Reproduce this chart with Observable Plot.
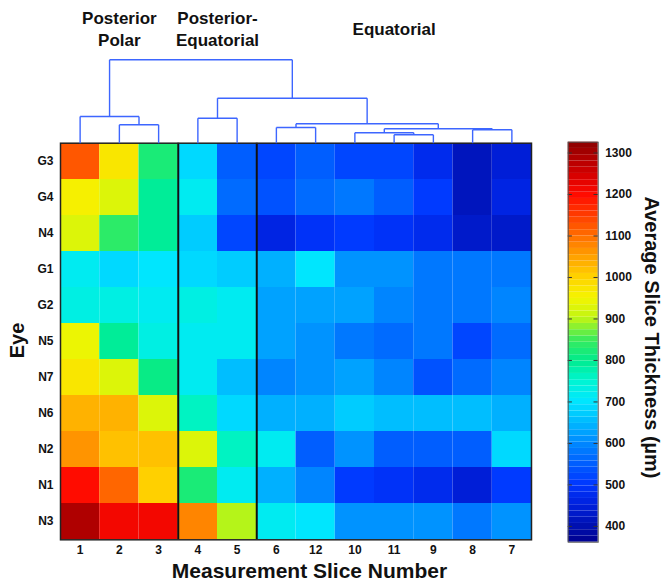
<!DOCTYPE html>
<html><head><meta charset="utf-8">
<script src="https://cdn.jsdelivr.net/npm/d3@7"></script>
<script src="https://cdn.jsdelivr.net/npm/@observablehq/plot@0.6"></script>
<style>
html,body{margin:0;padding:0;background:#fff;}
#chart{position:relative;width:665px;height:585px;overflow:hidden;font-family:"Liberation Sans",Arial,sans-serif;}
#chart svg{position:absolute;left:0;top:0;}
</style></head><body><div id="chart"></div>
<script>
// Column order (measurement slice numbers) and row order (eyes)
const slices = ["1","2","3","4","5","6","12","10","11","9","8","7"];
const eyes = ["G3","G4","N4","G1","G2","N5","N7","N6","N2","N1","N3"];

// Average slice thickness (µm), one array per eye, in column order above
const rowG3 = [1130, 975, 820, 685, 545, 515, 550, 525, 518, 478, 418, 450];
const rowG4 = [955, 930, 790, 710, 565, 535, 560, 580, 555, 500, 410, 458];
const rowN4 = [920, 835, 790, 670, 522, 462, 495, 508, 485, 478, 435, 435];
const rowG1 = [720, 680, 695, 680, 675, 635, 705, 615, 615, 585, 585, 585];
const rowG2 = [725, 725, 720, 730, 715, 625, 625, 630, 595, 585, 585, 600];
const rowN5 = [935, 790, 725, 715, 710, 625, 615, 575, 560, 585, 525, 565];
const rowN7 = [965, 930, 805, 715, 650, 595, 605, 630, 595, 540, 560, 595];
const rowN6 = [1030, 1030, 925, 760, 690, 640, 640, 670, 660, 660, 660, 645];
const rowN2 = [1065, 1020, 1020, 925, 765, 715, 555, 615, 555, 555, 555, 680];
const rowN1 = [1205, 1110, 1005, 815, 710, 640, 595, 500, 490, 468, 450, 505];
const rowN3 = [1285, 1210, 1210, 1080, 895, 715, 695, 605, 605, 605, 580, 605];

// Column clusters
const groupNames = ["Posterior\nPolar", "Posterior-\nEquatorial", "Equatorial"];
const groupFirst = [0, 3, 5];
const groupLast = [2, 4, 11];

// Dendrogram linkage (leaves are column indices 0..11, merges numbered from 12)
const linkLeft   = [1, 0, 3, 5, 8, 7, 10, 17, 15, 14, 13];
const linkRight  = [2, 12, 4, 6, 9, 16, 11, 18, 19, 20, 21];
const linkHeight = [184, 267, 250, 157, 84, 104, 134, 144, 195, 450, 834];

// Colour bar (jet-like colour map, 64 levels)
const colorDomain = [362, 1326];
const colorTicks = [400, 500, 600, 700, 800, 900, 1000, 1100, 1200, 1300];
const colorLevels = 64;
const stopValues = [362, 400, 450, 500, 550, 600, 650, 700, 750, 800, 850, 900, 950, 1000, 1050, 1100, 1150, 1200, 1250, 1326];
const stopColors = ["#000090", "#0010b0", "#0020dc", "#0036ff", "#005eff", "#0089ff", "#00b9ff", "#00e6ff", "#00f5d2", "#00eb8c",
                    "#3ceb5a", "#bef514", "#f5f500", "#ffd200", "#ffa000", "#ff6e00", "#ff3c00", "#ff0a00", "#d20000", "#8c0000"];
const stopScale = d3.scaleLinear().domain(stopValues).range(stopColors).interpolate(d3.interpolateRgb).clamp(true);

function jetLike(t) {
  t = Math.max(0, Math.min(1, t));
  const q = Math.min(colorLevels - 1, Math.floor(t * colorLevels));
  const u = (q + 0.5) / colorLevels;
  return stopScale(colorDomain[0] + u * (colorDomain[1] - colorDomain[0]));
}
const colorOpts = {type: "linear", domain: colorDomain, interpolate: jetLike};
const font = "'Liberation Sans', Arial, sans-serif";

const rows = [rowG3, rowG4, rowN4, rowG1, rowG2, rowN5, rowN7, rowN6, rowN2, rowN1, rowN3];
const cells = [];
eyes.forEach((e, r) => rows[r].forEach((v, c) => cells.push({eye: e, i: c, value: v})));

const W = 665, H = 585;
const mL = 60, mR = 134, mT = 142.7, mB = 45.7;

const heat = Plot.plot({
  width: W, height: H, marginLeft: mL, marginRight: mR, marginTop: mT, marginBottom: mB,
  x: {domain: [-0.5, slices.length - 0.5]},
  y: {domain: eyes, padding: 0},
  color: colorOpts,
  style: {fontFamily: font, background: "transparent", color: "#111"},
  marks: [
    Plot.barX(cells, {x1: d => d.i - 0.5, x2: d => d.i + 0.5, y: "eye", fill: "value", inset: 0}),
    Plot.ruleX(groupFirst.slice(1), {x: d => d - 0.5, stroke: "#111", strokeWidth: 2}),
    Plot.frame({stroke: "#222", strokeWidth: 1.5}),
    Plot.axisX(d3.range(slices.length), {tickFormat: i => slices[i], tickSize: 0, tickPadding: 6, fontSize: 12, fontWeight: "bold", label: null}),
    Plot.axisY({tickSize: 0, tickPadding: 7, fontSize: 12, fontWeight: "bold", label: null}),
    Plot.text(["Measurement Slice Number"], {frameAnchor: "bottom", lineAnchor: "middle", textAnchor: "middle", dx: 13.5, dy: 31, fontSize: 21, fontWeight: "bold", fill: "#111"}),
    Plot.text(["Eye"], {frameAnchor: "left", lineAnchor: "middle", textAnchor: "middle", rotate: -90, dx: -43, dy: -1, fontSize: 20, fontWeight: "bold", fill: "#111"})
  ]
});

// dendrogram segments
const nodeX = d3.range(slices.length), nodeH = slices.map(() => 0);
const segs = [];
linkLeft.forEach((a, k) => {
  const b = linkRight[k], h = linkHeight[k];
  const xa = nodeX[a], xb = nodeX[b];
  segs.push({x1: xa, y1: nodeH[a], x2: xa, y2: h});
  segs.push({x1: xa, y1: h, x2: xb, y2: h});
  segs.push({x1: xb, y1: h, x2: xb, y2: nodeH[b]});
  nodeX.push((xa + xb) / 2); nodeH.push(h);
});
const groups = groupNames.map((name, k) => ({name, mid: (groupFirst[k] + groupLast[k]) / 2}));

const dendro = Plot.plot({
  width: W, height: H, marginLeft: mL, marginRight: mR, marginTop: 0, marginBottom: H - mT,
  x: {domain: [-0.5, slices.length - 0.5], axis: null},
  y: {domain: [0, 1427], axis: null},
  style: {fontFamily: font, background: "transparent"},
  marks: [
    Plot.link(segs, {x1: "x1", y1: "y1", x2: "x2", y2: "y2", stroke: "#3d66ff", strokeWidth: 1.4}),
    Plot.text(groups, {x: "mid", text: "name", frameAnchor: "top", dy: 27.5, lineAnchor: "middle", lineHeight: 1.3, fontSize: 17, fontWeight: "bold", fill: "#111"})
  ]
});

const levels = d3.range(colorLevels).map(k => {
  const s = (colorDomain[1] - colorDomain[0]) / colorLevels;
  return {y1: colorDomain[0] + k * s, y2: colorDomain[0] + (k + 1) * s};
});
const cbar = Plot.plot({
  width: W, height: H, marginLeft: 567.7, marginRight: 67.3, marginTop: 141.7, marginBottom: 43.3,
  x: {domain: [0, 1], axis: null},
  y: {domain: colorDomain, axis: null},
  color: colorOpts,
  style: {fontFamily: font, background: "transparent", color: "#111"},
  marks: [
    Plot.rect(levels, {x1: 0, x2: 1, y1: "y1", y2: "y2", fill: d => (d.y1 + d.y2) / 2}),
    Plot.ruleY(colorTicks, {x1: 0, x2: 0.14, stroke: "#333", strokeWidth: 1}),
    Plot.ruleY(colorTicks, {x1: 0.86, x2: 1, stroke: "#333", strokeWidth: 1}),
    Plot.frame({stroke: "#555", strokeWidth: 1}),
    Plot.axisY(colorTicks, {anchor: "right", tickSize: 0, tickPadding: 7, tickFormat: d => String(d), fontSize: 12, fontWeight: "bold", label: null}),
    Plot.text(["Average Slice Thickness (µm)"], {frameAnchor: "right", textAnchor: "middle", lineAnchor: "middle", rotate: 90, dx: 53, dy: -4.7, fontSize: 20, fontWeight: "bold", fill: "#111"})
  ]
});

const el = document.getElementById("chart");
el.appendChild(heat);
el.appendChild(dendro);
el.appendChild(cbar);
</script></body></html>
